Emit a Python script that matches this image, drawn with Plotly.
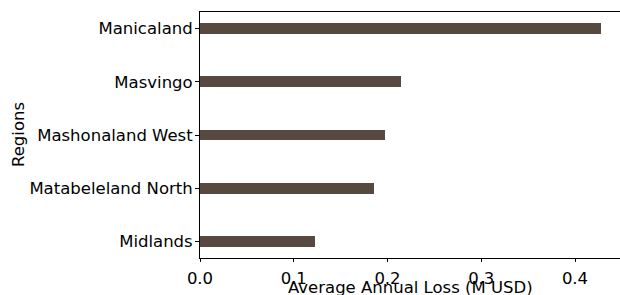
import plotly.graph_objects as go

regions = ["Midlands", "Matabeleland North", "Mashonaland West", "Masvingo", "Manicaland"]
losses = [0.123, 0.186, 0.197, 0.214, 0.428]
x_ticks = [0.0, 0.1, 0.2, 0.3, 0.4]
x_tick_labels = ["0.0", "0.1", "0.2", "0.3", "0.4"]

FONT = "DejaVu Sans"
fig = go.Figure(go.Bar(
    x=losses, y=regions, orientation="h",
    marker=dict(color="#574840", line=dict(width=0)),
    width=0.2,
))
fig.update_layout(
    width=620, height=295,
    margin=dict(l=200, r=0, t=12, b=37),
    plot_bgcolor="white", paper_bgcolor="white",
    font=dict(family=FONT, size=16, color="black"),
    showlegend=False,
    bargap=0,
)
fig.update_xaxes(
    range=[0, 0.448], tickvals=x_ticks, ticktext=x_tick_labels,
    showline=True, linecolor="black", linewidth=1, mirror=True,
    ticks="outside", ticklen=3, tickcolor="black",
    showgrid=False, zeroline=False, ticklabelstandoff=2,
    tickfont=dict(size=16.5), automargin=False,
)
fig.update_yaxes(
    range=[-0.31, 4.31], categoryorder="array", categoryarray=regions,
    showline=True, linecolor="black", linewidth=1, mirror=False,
    ticks="outside", ticklen=4, tickcolor="black",
    showgrid=False, zeroline=False, ticklabelstandoff=-1,
    tickfont=dict(size=16.5), automargin=False,
)
fig.add_annotation(
    text="Average Annual Loss (M USD)", xref="paper", yref="paper",
    x=0.5, y=0, yshift=-41, xanchor="center", yanchor="bottom",
    showarrow=False, font=dict(size=16.5),
)
fig.add_annotation(
    text="Regions", xref="paper", yref="paper",
    x=0, y=0.5, xshift=-182, xanchor="center", yanchor="middle",
    textangle=-90, showarrow=False, font=dict(size=16.5),
)
fig.write_html("out.html", config={"displayModeBar": False},
               post_script="document.body.style.margin='0';")
